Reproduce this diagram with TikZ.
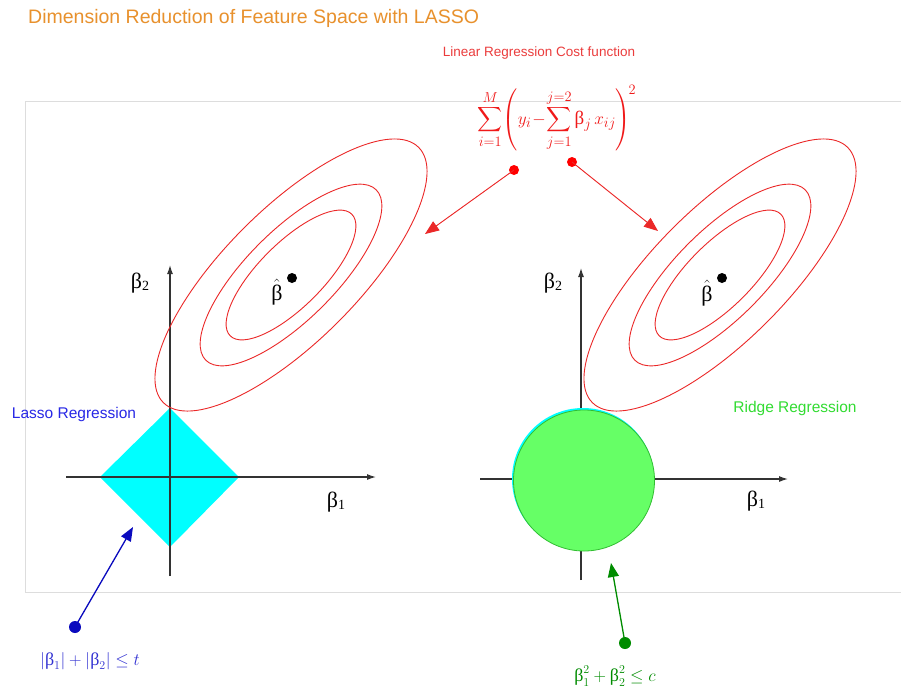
\documentclass[tikz,border=0pt]{standalone}
\usepackage{amsmath}
\usepackage{fontspec}
\newfontfamily\sansf{Liberation Sans}
\newfontfamily\symf{Liberation Serif}
\usetikzlibrary{arrows.meta}
\definecolor{titleorange}{RGB}{232,145,45}
\definecolor{costred}{RGB}{235,60,60}
\definecolor{formred}{RGB}{240,25,25}
\definecolor{ellred}{RGB}{235,40,40}
\definecolor{lassoblue}{RGB}{40,40,230}
\definecolor{arrowblue}{RGB}{10,10,190}
\definecolor{labelblue}{RGB}{50,50,210}
\definecolor{diamondcyan}{RGB}{0,255,255}
\definecolor{ridgefill}{RGB}{102,255,102}
\definecolor{ridgeedge}{RGB}{50,190,50}
\definecolor{ridgetext}{RGB}{50,220,50}
\definecolor{arrowgreen}{RGB}{0,140,0}
\definecolor{framegrey}{RGB}{221,221,221}
\newcommand{\bt}{\mbox{\symf β}}
\begin{document}
\begin{tikzpicture}[x=1pt,y=-1pt,
  contour/.style={draw=ellred,line width=0.9pt},
  axisline/.style={draw=black!80,line width=1.2pt,-{Latex[length=9pt,width=6pt]}},
  sanslabel/.style={inner sep=0pt,font=\sansf\fontsize{15.5}{18}\selectfont},
  axlabel/.style={inner sep=0pt,font=\symf\fontsize{22}{24}\selectfont},
  dotnode/.style={circle,inner sep=0pt,minimum size=#1},
  bigtip/.style={-{Triangle[length=14pt,width=11pt]}}
]
\useasboundingbox (0,0) rectangle (901,689);
\fill[white] (0,0) rectangle (901,689);
% frame
\draw[framegrey,line width=0.8pt] (25,101) rectangle (910,592);

% title and cost label
\node[anchor=base west,inner sep=0pt,text=titleorange,font=\sansf\fontsize{19.5}{22}\selectfont] (title) at (28,23) {Dimension Reduction of Feature Space with LASSO};
\node[inner sep=0pt,text=costred,font=\sansf\fontsize{13.5}{16}\selectfont] (cost) at (539,53) {Linear Regression Cost function};

% formula
\node[inner sep=0pt,text=formred,font=\fontsize{19}{23}\selectfont] (formula) at (557,118)
  {$\displaystyle\sum_{i=1}^{M}\!\left(y_i\!-\!\sum_{j=1}^{j=2}\bt_j\,x_{ij}\right)^{\!2}$};

% ---------- left panel ----------
\fill[diamondcyan] (170,408) -- (239,477) -- (170,547) -- (100,477) -- cycle;
\coordinate (LxS) at (66,477);
\coordinate (LxE) at (376,477);
\coordinate (LyS) at (170,576);
\coordinate (LyE) at (170,265);
\draw[axisline] (LxS) -- (LxE);
\draw[axisline] (LyS) -- (LyE);
\coordinate (Lc) at (291,275);
\draw[contour,rotate around={45:(Lc)}] (Lc) ellipse [x radius=180.5,y radius=66.5];
\draw[contour,rotate around={45:(Lc)}] (Lc) ellipse [x radius=120.5,y radius=44.5];
\draw[contour,rotate around={45:(Lc)}] (Lc) ellipse [x radius=86,y radius=32];
\node[dotnode=10pt,fill=black] (Ldot) at (292,278) {};
\node[axlabel] (Lhat) at (277,292) {$\hat{\bt}$};
\node[axlabel] (Lb2) at (140,283) {β\raisebox{-0.25ex}{\fontsize{14}{14}\selectfont 2}};
\node[axlabel] (Lb1) at (336,502) {β\raisebox{-0.25ex}{\fontsize{14}{14}\selectfont 1}};
\node[sanslabel,text=lassoblue] (lasso) at (74,414) {Lasso Regression};

% ---------- right panel ----------
\coordinate (RxS) at (480,479);
\coordinate (RxE) at (788,479);
\coordinate (RyS) at (581,580);
\coordinate (RyE) at (581,268);
\draw[axisline] (RxS) -- (RxE);
\draw[axisline] (RyS) -- (RyE);
\fill[diamondcyan] (583,479) circle [radius=71];
\draw[fill=ridgefill,draw=ridgeedge,line width=0.8pt] (584,480.5) circle [radius=70.5];
\coordinate (Rc) at (720,275);
\draw[contour,rotate around={45:(Rc)}] (Rc) ellipse [x radius=180.5,y radius=66.5];
\draw[contour,rotate around={45:(Rc)}] (Rc) ellipse [x radius=120.5,y radius=44.5];
\draw[contour,rotate around={45:(Rc)}] (Rc) ellipse [x radius=86,y radius=32];
\node[dotnode=10pt,fill=black] (Rdot) at (722,278) {};
\node[axlabel] (Rhat) at (707,293) {$\hat{\bt}$};
\node[axlabel] (Rb2) at (553,283) {β\raisebox{-0.25ex}{\fontsize{14}{14}\selectfont 2}};
\node[axlabel] (Rb1) at (756,501) {β\raisebox{-0.25ex}{\fontsize{14}{14}\selectfont 1}};
\node[sanslabel,text=ridgetext] (ridge) at (795,408) {Ridge Regression};

% ---------- cost arrows ----------
\node[dotnode=10pt,fill=red] (cdotL) at (514,170) {};
\node[dotnode=10pt,fill=red] (cdotR) at (572,162) {};
\coordinate (cTipL) at (425,234);
\coordinate (cTipR) at (658,231);
\draw[bigtip,draw=ellred,fill=red,line width=0.9pt] (cdotL.center) -- (cTipL);
\draw[bigtip,draw=ellred,fill=red,line width=0.9pt] (cdotR.center) -- (cTipR);

% ---------- constraint arrows ----------
\node[dotnode=12pt,fill=arrowblue] (bdot) at (75,627) {};
\coordinate (bTip) at (133,527);
\draw[bigtip,draw=arrowblue,fill=arrowblue,line width=1.3pt] (bdot.center) -- (bTip);
\node[inner sep=0pt,text=labelblue,font=\fontsize{18}{20}\selectfont] (blabel) at (90,661)
  {$\lvert\bt_1\rvert+\lvert\bt_2\rvert\le t$};

\node[dotnode=12pt,fill=arrowgreen] (gdot) at (625,643) {};
\coordinate (gTip) at (611,563);
\draw[bigtip,draw=arrowgreen,fill=arrowgreen,line width=1.3pt] (gdot.center) -- (gTip);
\node[inner sep=0pt,text=arrowgreen,font=\fontsize{18}{20}\selectfont] (glabel) at (615,676)
  {$\bt_1^2+\bt_2^2\le c$};
\end{tikzpicture}
\end{document}
